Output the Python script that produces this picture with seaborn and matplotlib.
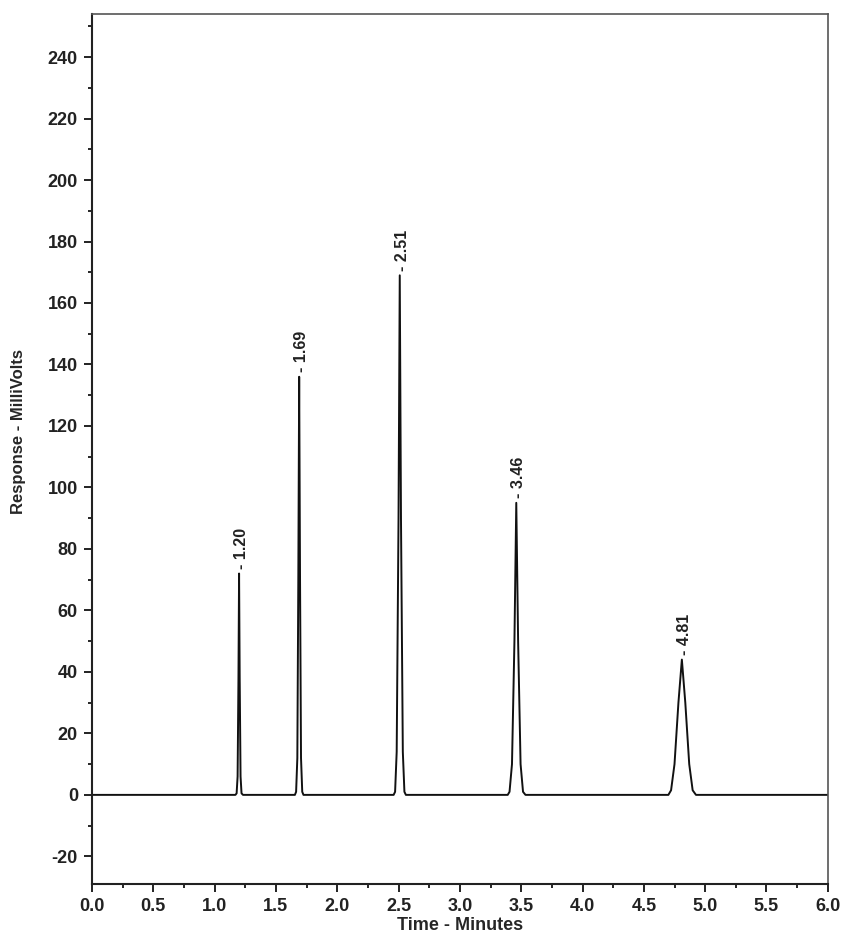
import numpy as np
import pandas as pd
import matplotlib.pyplot as plt
import seaborn as sns

# peak retention times (labels) and heights
peak_times = [1.20, 1.69, 2.51, 3.46, 4.81]
peak_labels = ["1.20", "1.69", "2.51", "3.46", "4.81"]
peak_heights = [72, 136, 169, 95, 44]

# trace points (minutes, millivolts)
trace_time = [0.00, 1.00, 1.17,
              1.180, 1.188, 1.195, 1.200, 1.205, 1.212, 1.220, 1.232,
              1.50, 1.655,
              1.665, 1.675, 1.683, 1.690, 1.697, 1.705, 1.715, 1.725,
              2.00, 2.460,
              2.472, 2.485, 2.500, 2.510, 2.520, 2.535, 2.548, 2.560,
              3.00, 3.390,
              3.405, 3.425, 3.445, 3.460, 3.475, 3.495, 3.515, 3.535,
              4.20, 4.700,
              4.722, 4.750, 4.782, 4.810, 4.838, 4.870, 4.898, 4.925,
              5.50, 6.00]
trace_resp = [0.0, 0.0, 0.0,
              0.5, 6, 38, 72, 38, 6, 0.5, 0.0,
              0.0, 0.0,
              1, 12, 70, 136, 70, 12, 1, 0.0,
              0.0, 0.0,
              1, 14, 90, 169, 90, 14, 1, 0.0,
              0.0, 0.0,
              1, 10, 50, 95, 50, 10, 1, 0.0,
              0.0, 0.0,
              1.5, 10, 30, 44, 30, 10, 1.5, 0.0,
              0.0, 0.0]

x_ticks = [0.0, 0.5, 1.0, 1.5, 2.0, 2.5, 3.0, 3.5, 4.0, 4.5, 5.0, 5.5, 6.0]
y_ticks = [-20, 0, 20, 40, 60, 80, 100, 120, 140, 160, 180, 200, 220, 240]

sns.set_style("ticks")
plt.rcParams['font.family'] = ['Liberation Sans', 'DejaVu Sans']
plt.rcParams['axes.unicode_minus'] = False

df = pd.DataFrame({"time": trace_time, "resp": trace_resp})

fig = plt.figure(figsize=(8.43, 9.34), dpi=100)
ax = fig.add_axes([0.109, 0.0535, 0.873, 0.9315])
sns.lineplot(data=df, x="time", y="resp", ax=ax, color="#111111", linewidth=1.4,
             estimator=None, sort=False)

ax.set_xlim(0, 6)
ax.set_ylim(-29, 254)
ax.set_xticks(x_ticks)
ax.set_xticklabels([f"{v:.1f}" for v in x_ticks])
ax.set_yticks(y_ticks)
ax.set_xticks(np.arange(0, 6.01, 0.25), minor=True)
ax.set_yticks(np.arange(-20, 251, 10), minor=True)
ax.tick_params(which="major", length=6, width=1.4, direction="out",
               labelsize=13, colors="#222222", pad=4)
ax.tick_params(which="minor", length=3, width=1.4, direction="out")
for lbl in ax.get_xticklabels() + ax.get_yticklabels():
    lbl.set_fontweight("bold")

for side in ["left", "bottom"]:
    ax.spines[side].set_linewidth(1.5)
    ax.spines[side].set_color("#222222")
for side in ["top", "right"]:
    ax.spines[side].set_linewidth(1.2)
    ax.spines[side].set_color("#555555")

ax.set_xlabel("Time - Minutes", fontsize=13, fontweight="bold")
ax.xaxis.set_label_coords(0.5, -0.038)
ax.set_ylabel("Response - MilliVolts", fontsize=12, fontweight="bold",
              family=['Liberation Sans Narrow', 'Liberation Sans', 'DejaVu Sans'])
ax.yaxis.set_label_coords(-0.09, 0.52)

# retention time labels above each peak
for t, h, lab in zip(peak_times, peak_heights, peak_labels):
    ax.text(t + 0.02, h + 1.5, "- " + lab, rotation=90, ha="center", va="bottom",
            fontsize=11.5, fontweight="bold", color="#222222",
            family=['Liberation Sans Narrow', 'Liberation Sans', 'DejaVu Sans'])

fig.savefig("out.png", dpi=100)
